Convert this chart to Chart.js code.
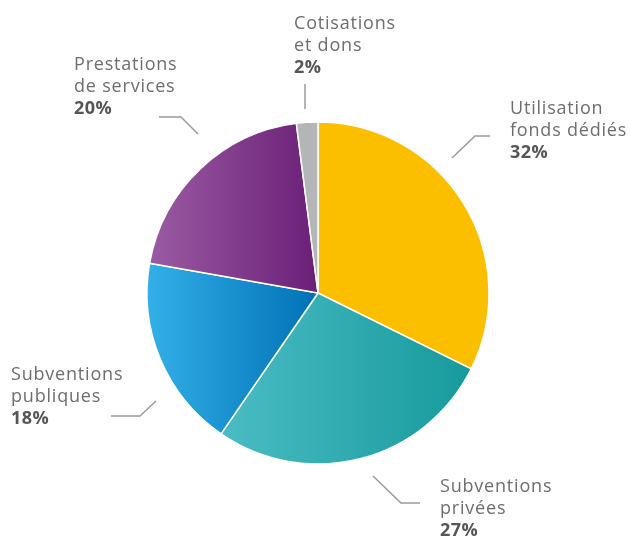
<!DOCTYPE html>
<html>
<head>
<meta charset="utf-8">
<script src="https://cdn.jsdelivr.net/npm/chart.js@4/dist/chart.umd.min.js"></script>
<style>
  html, body { margin: 0; padding: 0; background: #fff; }
  #wrap { width: 630px; height: 536px; position: relative; }
</style>
</head>
<body>
<div id="wrap"><canvas id="c"></canvas></div>
<script>
const labels = [
  ['Utilisation', 'fonds dédiés'],
  ['Subventions', 'privées'],
  ['Subventions', 'publiques'],
  ['Prestations', 'de services'],
  ['Cotisations', 'et dons']
];
const values = [32, 27, 18, 20, 2];
const percentLabels = ['32%', '27%', '18%', '20%', '2%'];

// gradient left -> right per slice
const colorsFrom = ['#fbbf00', '#4abcc4', '#33b0e8', '#9b5ba3', '#b4b5b7'];
const colorsTo = ['#fbbf00', '#179a9c', '#0070b6', '#6a1f77', '#b4b5b7'];

// label placement: text left x, first baseline, leader line points
const labelPos = [
  { x: 510, y: 114, line: [[452, 158], [475, 136], [490, 136]] },
  { x: 440, y: 492, line: [[373, 476], [401, 503], [420, 503]] },
  { x: 11, y: 380, line: [[156, 401], [140, 416], [111, 416]] },
  { x: 74, y: 70, line: [[198, 134], [181, 117], [159, 117]] },
  { x: 294, y: 29, line: [[305, 84], [305, 109]] }
];

const RADIUS = 171;

function sliceGradient(ctx) {
  const chart = ctx.chart;
  const area = chart.chartArea;
  const i = ctx.dataIndex;
  if (!area) return colorsFrom[i];
  const cx = (area.left + area.right) / 2;
  const total = values.reduce((a, b) => a + b, 0);
  let start = -Math.PI / 2;
  for (let k = 0; k < i; k++) start += values[k] / total * 2 * Math.PI;
  const end = start + values[i] / total * 2 * Math.PI;
  const xs = [cx, cx + RADIUS * Math.cos(start), cx + RADIUS * Math.cos(end)];
  [0, Math.PI].forEach(a => { if (a > start && a < end) xs.push(cx + RADIUS * Math.cos(a)); });
  const g = chart.ctx.createLinearGradient(Math.min(...xs), 0, Math.max(...xs), 0);
  g.addColorStop(0, colorsFrom[i]);
  g.addColorStop(1, colorsTo[i]);
  return g;
}

const calloutPlugin = {
  id: 'callouts',
  afterDraw(chart) {
    const c = chart.ctx;
    c.save();
    c.strokeStyle = '#9b9b9b';
    c.lineWidth = 1.5;
    labelPos.forEach((p, i) => {
      c.beginPath();
      p.line.forEach((pt, j) => j ? c.lineTo(pt[0], pt[1]) : c.moveTo(pt[0], pt[1]));
      c.stroke();

      c.textAlign = 'left';
      c.textBaseline = 'alphabetic';
      c.letterSpacing = '0.8px';
      c.font = '400 18px "Open Sans"';
      c.fillStyle = '#6e6e6e';
      labels[i].forEach((t, k) => c.fillText(t, p.x, p.y + k * 22));
      c.letterSpacing = '0.4px';
      c.font = '700 18px "Open Sans"';
      c.fillStyle = '#565656';
      c.fillText(percentLabels[i], p.x, p.y + labels[i].length * 22);
    });
    c.restore();
  }
};

new Chart(document.getElementById('c'), {
  type: 'pie',
  data: {
    labels: labels.map(l => l.join(' ')),
    datasets: [{
      data: values,
      backgroundColor: sliceGradient,
      borderColor: '#ffffff',
      borderWidth: 1.5,
      hoverOffset: 0
    }]
  },
  options: {
    responsive: true,
    maintainAspectRatio: false,
    animation: false,
    radius: RADIUS,
    layout: { padding: { top: 122, bottom: 72, left: 147, right: 141 } },
    plugins: {
      legend: { display: false },
      tooltip: { enabled: false }
    }
  },
  plugins: [calloutPlugin]
});
</script>
</body>
</html>
